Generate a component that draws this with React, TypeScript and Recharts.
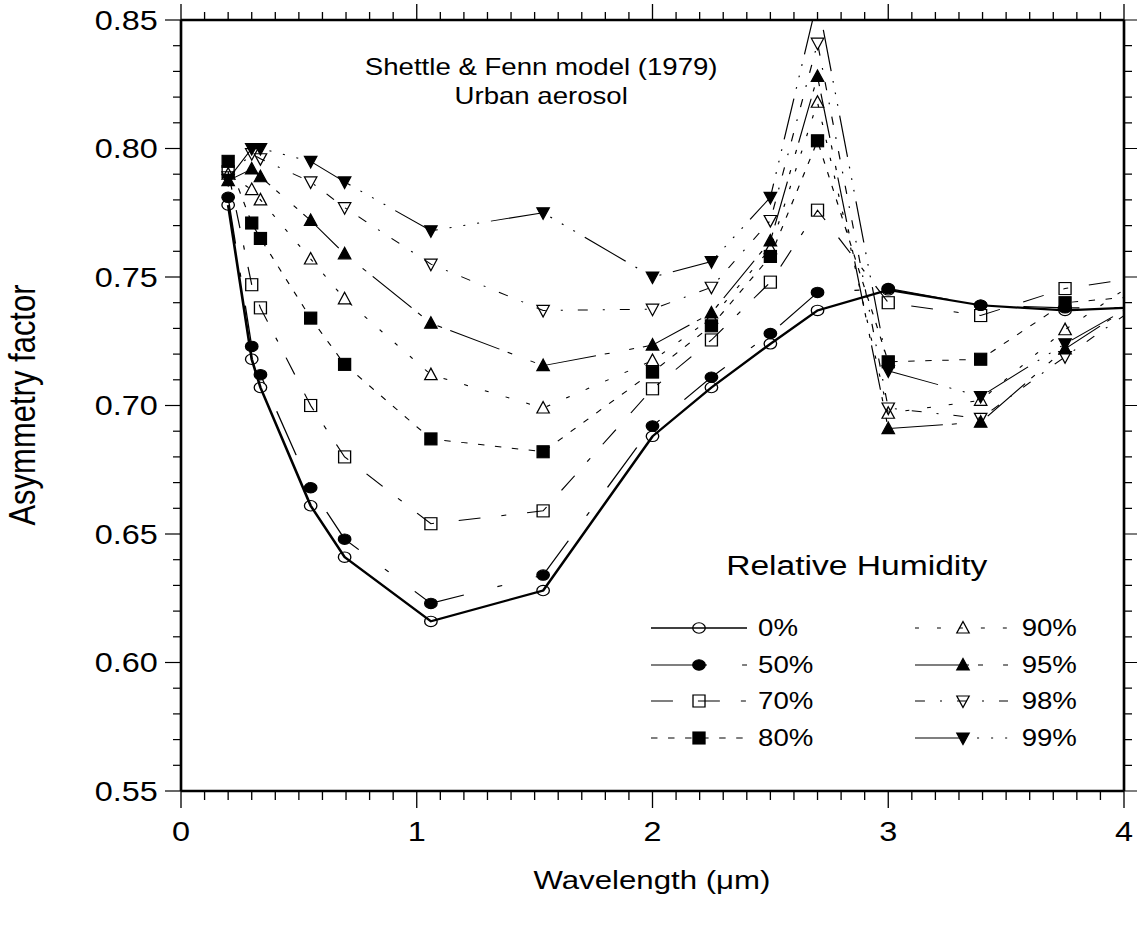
import React from 'react';
import { LineChart, Line, XAxis, YAxis, Customized } from 'recharts';

// the reference is stretched sideways, so draw narrow and scale the box
const SX = 1.2;
const W = 1137 / SX;
const H = 928;
const FONT = '"Liberation Sans", Arial, Helvetica, sans-serif';

const wavelength = [0.2, 0.3, 0.337, 0.55, 0.694, 1.06, 1.536, 2.0, 2.25, 2.5, 2.7, 3.0, 3.392, 3.75, 4.0];

const rh0 = [0.778, 0.718, 0.707, 0.661, 0.641, 0.616, 0.628, 0.688, 0.707, 0.724, 0.737, 0.745, 0.739, 0.737, 0.738];
const rh50 = [0.781, 0.723, 0.712, 0.668, 0.648, 0.623, 0.634, 0.692, 0.711, 0.728, 0.744, 0.7455, 0.739, 0.738, 0.738];
const rh70 = [0.791, 0.747, 0.738, 0.7, 0.68, 0.654, 0.659, 0.7065, 0.7255, 0.748, 0.776, 0.74, 0.735, 0.7455, 0.749];
const rh80 = [0.795, 0.771, 0.765, 0.734, 0.716, 0.687, 0.682, 0.713, 0.731, 0.758, 0.803, 0.717, 0.718, 0.74, 0.742];
const rh90 = [0.79, 0.784, 0.78, 0.757, 0.7415, 0.712, 0.699, 0.7175, 0.734, 0.761, 0.818, 0.697, 0.702, 0.7295, 0.745];
const rh95 = [0.7875, 0.792, 0.789, 0.772, 0.759, 0.732, 0.7155, 0.7235, 0.736, 0.764, 0.828, 0.691, 0.6935, 0.722, 0.737];
const rh98 = [0.789, 0.798, 0.796, 0.787, 0.777, 0.755, 0.737, 0.7375, 0.746, 0.772, 0.841, 0.699, 0.695, 0.719, 0.735];
const rh99 = [0.788, 0.8, 0.8, 0.795, 0.787, 0.768, 0.775, 0.75, 0.756, 0.781, 0.858, 0.7135, 0.7035, 0.724, 0.737];

const xMajor = [0, 1, 2, 3, 4];
const yMajor = [0.55, 0.6, 0.65, 0.7, 0.75, 0.8, 0.85];
const xTicks = Array.from({ length: 41 }, (_, i) => +(i * 0.1).toFixed(1));
const yTicks = Array.from({ length: 31 }, (_, i) => +(0.55 + i * 0.01).toFixed(2));

type Shape = 'circle' | 'square' | 'up' | 'down';

const series: { key: string; label: string; values: number[]; shape: Shape; filled: boolean; dash?: string; width: number }[] = [
  { key: 'rh0', label: '0%', values: rh0, shape: 'circle', filled: false, width: 2.2 },
  { key: 'rh50', label: '50%', values: rh50, shape: 'circle', filled: true, dash: '46.7 29.2 4.2 29.2', width: 1.1 },
  { key: 'rh70', label: '70%', values: rh70, shape: 'square', filled: false, dash: '18.3 20.8 18.3 17.5 4.2 17.5', width: 1 },
  { key: 'rh80', label: '80%', values: rh80, shape: 'square', filled: true, dash: '5.4 8.8', width: 1 },
  { key: 'rh90', label: '90%', values: rh90, shape: 'up', filled: false, dash: '3.3 15', width: 1 },
  { key: 'rh95', label: '95%', values: rh95, shape: 'up', filled: true, dash: '45 7.5 4.2 16.7 4.2 7.5', width: 1 },
  { key: 'rh98', label: '98%', values: rh98, shape: 'down', filled: false, dash: '8.3 12.5 1.7 12.5', width: 1 },
  { key: 'rh99', label: '99%', values: rh99, shape: 'down', filled: true, dash: '41.7 10 1.7 10 1.7 10 1.7 10', width: 1 },
];

const data = wavelength.map((x, i) => {
  const row: any = { x };
  series.forEach((s) => {
    row[s.key] = s.values[i];
  });
  return row;
});

const isMajor = (v: number, step: number) => Math.abs(v / step - Math.round(v / step)) < 1e-6;

function Marker({ cx, cy, shape, filled }: { cx: number; cy: number; shape: Shape; filled: boolean }) {
  const p = { fill: filled ? '#000' : 'none', stroke: '#000', strokeWidth: 1.1 };
  if (shape === 'circle') return <circle cx={cx} cy={cy} r={5.2} {...p} />;
  if (shape === 'square') return <rect x={cx - 5} y={cy - 6} width={10} height={12} {...p} />;
  if (shape === 'up')
    return <polygon points={`${cx},${cy - 6.5} ${cx - 5.2},${cy + 5} ${cx + 5.2},${cy + 5}`} {...p} />;
  return <polygon points={`${cx},${cy + 6.5} ${cx - 5.2},${cy - 5} ${cx + 5.2},${cy - 5}`} {...p} />;
}

const makeDot = (shape: Shape, filled: boolean) => (props: any) => {
  const { cx, cy, index } = props;
  if (cx == null || cy == null || index === wavelength.length - 1) return <g key={`d${index}`} />;
  return (
    <g key={`d${index}`}>
      <Marker cx={cx} cy={cy} shape={shape} filled={filled} />
    </g>
  );
};

// tick renderers: one axis per side, long ticks on the majors, labels on bottom/left only
const BottomTick = (props: any) => {
  const { x, y, payload } = props;
  const major = isMajor(payload.value, 1);
  return (
    <g>
      <line x1={x} y1={y} x2={x} y2={y + (major ? 17 : 9)} stroke="#000" strokeWidth={1.1} />
      {major && xMajor.includes(payload.value) && (
        <text x={x} y={y + 50} textAnchor="middle" fontSize={27} fontFamily={FONT} fill="#000">
          {payload.value}
        </text>
      )}
    </g>
  );
};

const TopTick = (props: any) => {
  const { x, y, payload } = props;
  const major = isMajor(payload.value, 1);
  return <line x1={x} y1={y} x2={x} y2={y - (major ? 16 : 8)} stroke="#000" strokeWidth={1.1} />;
};

const LeftTick = (props: any) => {
  const { x, y, payload } = props;
  const major = isMajor(payload.value, 0.05);
  return (
    <g>
      <line x1={x} y1={y} x2={x - (major ? 16 : 8) / SX} y2={y} stroke="#000" strokeWidth={1.2} />
      {major && yMajor.some((m) => Math.abs(m - payload.value) < 1e-6) && (
        <text x={x - 16 / SX - 6} y={y} dy="0.36em" textAnchor="end" fontSize={27} fontFamily={FONT} fill="#000">
          {payload.value.toFixed(2)}
        </text>
      )}
    </g>
  );
};

const RightTick = (props: any) => {
  const { x, y, payload } = props;
  const major = isMajor(payload.value, 0.05);
  return <line x1={x} y1={y} x2={x + (major ? 16 : 8) / SX} y2={y} stroke="#000" strokeWidth={1.2} />;
};

const rowsY = [628, 665, 701, 738];

function Annotations() {
  return (
    <g fontFamily={FONT} fill="#000">
      <text x={451} y={75} textAnchor="middle" fontSize={23}>
        Shettle &amp; Fenn model (1979)
      </text>
      <text x={451} y={104} textAnchor="middle" fontSize={23}>
        Urban aerosol
      </text>
      <text x={714} y={575} textAnchor="middle" fontSize={28}>
        Relative Humidity
      </text>
      {series.map((s, i) => {
        const col = i < 4 ? 0 : 1;
        const y = rowsY[i % 4];
        const x0 = col === 0 ? 542.5 : 762.5;
        const x1 = col === 0 ? 622.5 : 840;
        const xm = col === 0 ? 582.5 : 802.5;
        const xl = col === 0 ? 631.7 : 851.4;
        return (
          <g key={s.key}>
            <line x1={x0} y1={y} x2={x1} y2={y} stroke="#000" strokeWidth={s.key === 'rh0' ? 1.3 : 1} strokeDasharray={s.dash} />
            <Marker cx={xm} cy={y} shape={s.shape} filled={s.filled} />
            <text x={xl} y={y + 8} fontSize={23}>
              {s.label}
            </text>
          </g>
        );
      })}
      <text x={543.3} y={889} textAnchor="middle" fontSize={26}>
        Wavelength (μm)
      </text>
      <text x={0} y={0} textAnchor="middle" fontSize={31} transform={`translate(29, 405) rotate(-90)`}>
        Asymmetry factor
      </text>
    </g>
  );
}

export default function App() {
  const common = { type: 'number' as const, allowDataOverflow: true, interval: 0 as const, tickSize: 0, tickMargin: 0, tickLine: false };
  return (
    <div
      style={{
        position: 'absolute',
        left: 0,
        top: 0,
        width: W,
        height: H,
        transform: `scaleX(${SX})`,
        transformOrigin: '0 0',
        background: '#fff',
      }}
    >
      <LineChart
        width={W}
        height={H}
        data={data}
        margin={{ top: 19, right: W - 1124 / SX - 1, bottom: H - 791 - 1, left: 181 / SX - 1 }}
      >
        <XAxis
          {...common}
          xAxisId="b"
          dataKey="x"
          domain={[0, 4]}
          ticks={xTicks}
          height={1}
          axisLine={{ stroke: '#000', strokeWidth: 2.6 }}
          tick={BottomTick}
        />
        <XAxis
          {...common}
          xAxisId="t"
          dataKey="x"
          orientation="top"
          domain={[0, 4]}
          ticks={xTicks}
          height={1}
          axisLine={{ stroke: '#000', strokeWidth: 2.6 }}
          tick={TopTick}
        />
        <YAxis
          {...common}
          yAxisId="l"
          domain={[0.55, 0.85]}
          ticks={yTicks}
          width={1}
          axisLine={{ stroke: '#000', strokeWidth: 2.2 }}
          tick={LeftTick}
        />
        <YAxis
          {...common}
          yAxisId="r"
          orientation="right"
          domain={[0.55, 0.85]}
          ticks={yTicks}
          width={1}
          axisLine={{ stroke: '#000', strokeWidth: 2.2 }}
          tick={RightTick}
        />
        {series.map((s) => (
          <Line
            key={s.key}
            xAxisId="b"
            yAxisId="l"
            type="linear"
            dataKey={s.key}
            stroke="#000"
            strokeWidth={s.width}
            strokeDasharray={s.dash}
            dot={makeDot(s.shape, s.filled)}
            activeDot={false}
            isAnimationActive={false}
          />
        ))}
        {/* the top and right axes need a series to get a scale */}
        <Line xAxisId="t" yAxisId="r" dataKey="rh0" stroke="none" dot={false} activeDot={false} legendType="none" isAnimationActive={false} />
        <Customized component={<Annotations />} />
      </LineChart>
    </div>
  );
}
